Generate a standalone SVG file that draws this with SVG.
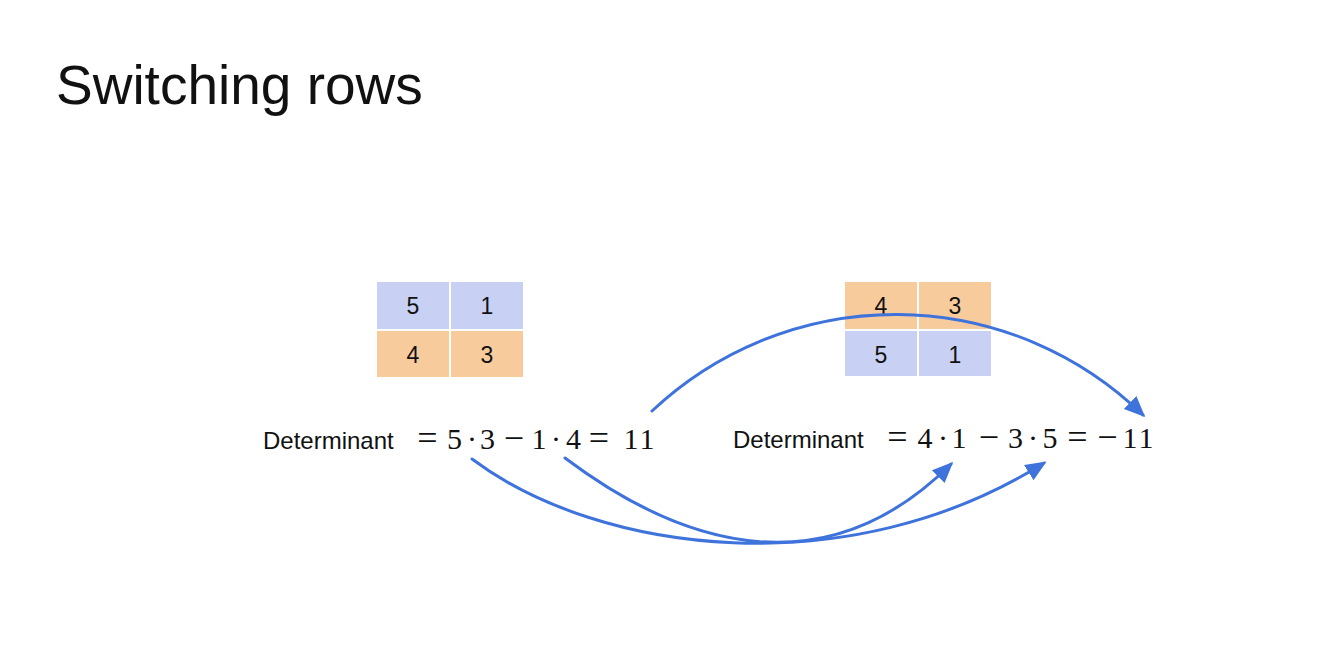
<svg xmlns="http://www.w3.org/2000/svg" width="1327" height="658" viewBox="0 0 1327 658">
<style>
.sans{font-family:"Liberation Sans",Arial,sans-serif;fill:#111}
.math{font-family:"Liberation Serif","Times New Roman",serif;font-size:30px;fill:#111;text-anchor:middle}
.op{font-family:"Liberation Serif","Times New Roman",serif;font-size:36px;fill:#111;text-anchor:middle}
.cellnum{font-family:"Liberation Sans",Arial,sans-serif;font-size:23px;fill:#111;text-anchor:middle}
.blue{fill:#c8d0f3}
.orange{fill:#f8cb9d}
.conn{fill:none;stroke:#3f73dc;stroke-width:3;stroke-linecap:round}
</style>
<defs>
<marker id="ah" markerUnits="userSpaceOnUse" markerWidth="24" markerHeight="20" refX="18" refY="9" orient="auto">
<path d="M0,0 L21,9 L0,18 Z" fill="#3f73dc"/>
</marker>
</defs>
<rect width="1327" height="658" fill="#ffffff"/>
<text class="sans" x="56" y="104" font-size="55">Switching rows</text>

<g id="matrix-left">
<rect class="blue" x="377" y="282" width="72" height="47"/>
<rect class="blue" x="451" y="282" width="72" height="47"/>
<rect class="orange" x="377" y="331" width="72" height="46"/>
<rect class="orange" x="451" y="331" width="72" height="46"/>
<text class="cellnum" x="413" y="314">5</text>
<text class="cellnum" x="487" y="314">1</text>
<text class="cellnum" x="413" y="363">4</text>
<text class="cellnum" x="487" y="363">3</text>
</g>

<g id="matrix-right">
<rect class="orange" x="845" y="282" width="72" height="47"/>
<rect class="orange" x="919" y="282" width="72" height="47"/>
<rect class="blue" x="845" y="331" width="72" height="45"/>
<rect class="blue" x="919" y="331" width="72" height="45"/>
<text class="cellnum" x="881" y="314">4</text>
<text class="cellnum" x="955" y="314">3</text>
<text class="cellnum" x="881" y="363">5</text>
<text class="cellnum" x="955" y="363">1</text>
</g>

<g id="equation-left">
<text class="sans" x="263" y="449" font-size="24">Determinant</text>
<text class="op" x="427.5" y="450">=</text>
<text class="math" x="454.5" y="449">5</text>
<text class="math" x="472" y="449">·</text>
<text class="math" x="487.5" y="449">3</text>
<text class="op" x="514" y="450">−</text>
<text class="math" x="539" y="449">1</text>
<text class="math" x="556" y="449">·</text>
<text class="math" x="573.5" y="449">4</text>
<text class="op" x="599" y="450">=</text>
<text class="math" x="640" y="449" letter-spacing="2">11</text>
</g>

<g id="equation-right">
<text class="sans" x="733" y="448" font-size="24">Determinant</text>
<text class="op" x="897.5" y="449">=</text>
<text class="math" x="925" y="448">4</text>
<text class="math" x="943" y="448">·</text>
<text class="math" x="959" y="448">1</text>
<text class="op" x="989" y="449">−</text>
<text class="math" x="1015.5" y="448">3</text>
<text class="math" x="1033" y="448">·</text>
<text class="math" x="1050" y="448">5</text>
<text class="op" x="1077.5" y="449">=</text>
<text class="op" x="1107.5" y="449">−</text>
<text class="math" x="1139" y="448" letter-spacing="2">11</text>
</g>

<g id="connectors">
<path class="conn" d="M652,411 A355,355 0 0 1 1143,415" marker-end="url(#ah)"/>
<path class="conn" d="M472,459 C600,555 850,585 1044,463" marker-end="url(#ah)"/>
<path class="conn" d="M565,458 C690,552 830,585 951,464" marker-end="url(#ah)"/>
</g>
</svg>
